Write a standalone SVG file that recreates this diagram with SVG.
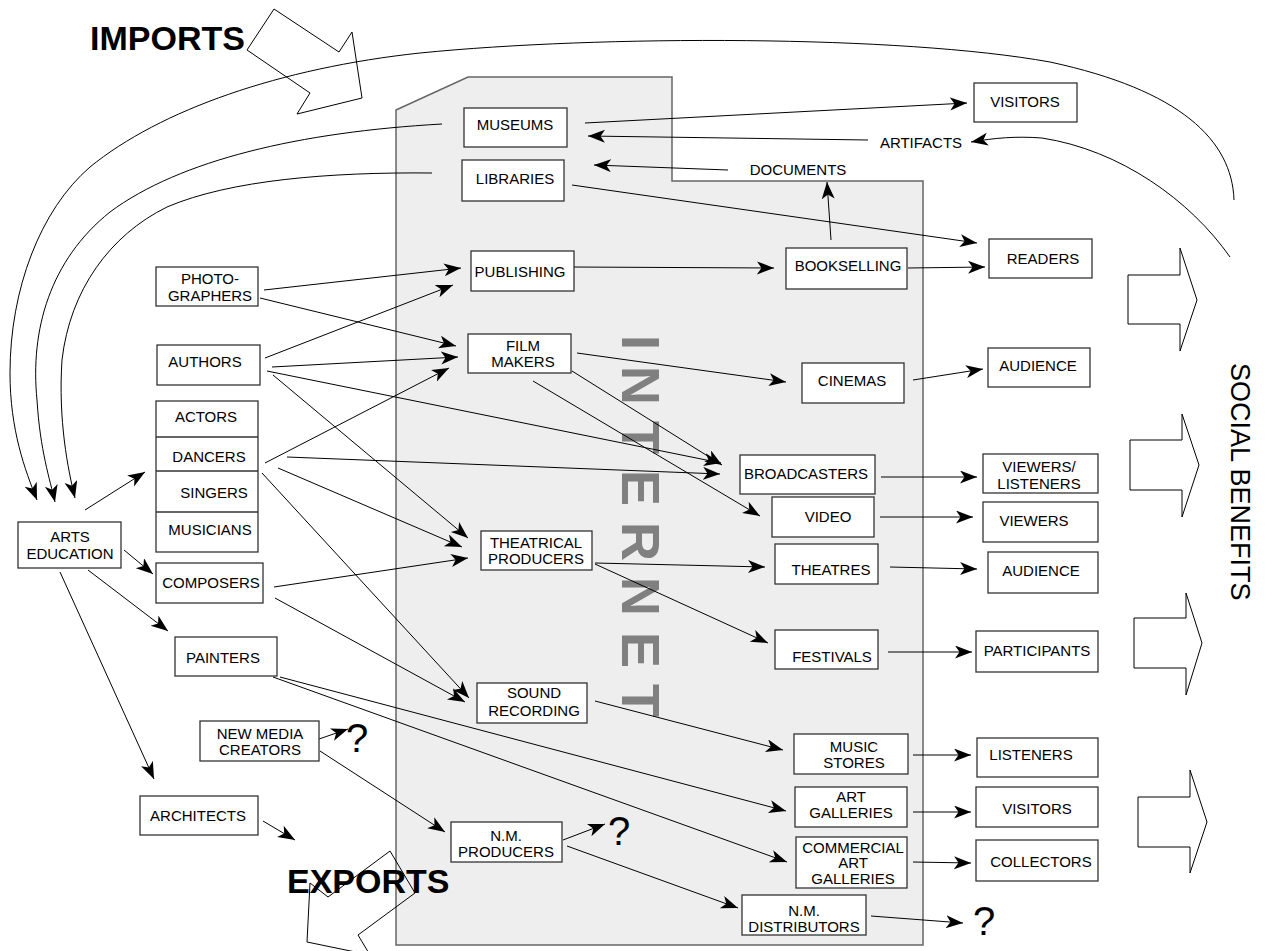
<svg xmlns="http://www.w3.org/2000/svg" width="1266" height="951" viewBox="0 0 1266 951">
<style>
text{font-family:"Liberation Sans",Arial,sans-serif;fill:#000}
.t{font-size:15px;text-anchor:middle}
.box{fill:#fff;stroke:#333;stroke-width:1.3}
.big{font-size:34px;font-weight:bold}
.q{font-size:40px}
.out{fill:none;stroke:#000;stroke-width:1}
#connectors line,#connectors path{fill:none;stroke:#000;stroke-width:1}
</style>
<defs>
<marker id="ah" markerUnits="userSpaceOnUse" markerWidth="19" markerHeight="15" refX="17" refY="6.5" orient="auto" viewBox="0 0 19 15">
<path d="M0,0 L17,6.5 L0,13 L4.5,6.5 z" fill="#000"/>
</marker>
</defs>
<rect width="1266" height="951" fill="#fff"/>
<g id="internet">
<polygon points="396,110 468,77 672,77 672,181 923,181 923,945 396,945" fill="#eeeeee" stroke="#666" stroke-width="1.5"/>
<text transform="rotate(90)" x="335" y="-622" font-size="54" font-weight="bold" letter-spacing="16" style="fill:#808080">INTERNET</text>
</g>
<g id="imports">
<polygon class="out" points="274,9 339,52 352,32 362,98 297,114 310,93 247,50"/>
<text class="big" x="90" y="50">IMPORTS</text>
</g>
<g id="exports">
<text class="big" x="287" y="893">EXPORTS</text>
<polygon class="out" points="390,851 415,893 358,935 370,955 307,942 310,883 328,897"/>
</g>
<g id="social-benefits">
<polygon class="out" points="1128,275 1180,275 1180,248 1197,300 1180,351 1180,324 1128,324"/>
<polygon class="out" points="1130,440 1182,440 1182,414 1199,465 1182,517 1182,490 1130,490"/>
<polygon class="out" points="1134,618 1186,618 1186,593 1202,643 1186,695 1186,668 1134,668"/>
<polygon class="out" points="1138,797 1190,797 1190,770 1207,822 1190,873 1190,847 1138,847"/>
<text transform="rotate(90)" x="363" y="-1231" font-size="27">SOCIAL BENEFITS</text>
</g>
<g id="connectors">
<path d="M1234,200 C1232,140 1180,90 1050,62 C900,35 600,35 420,53 C280,68 160,110 90,167 C40,210 10,290 10,373 C10,430 25,470 37,500" marker-end="url(#ah)"/>
<path d="M442,124 C300,132 180,160 110,212 C50,260 30,330 37,400 C40,450 50,480 55,502" marker-end="url(#ah)"/>
<path d="M432,173 C330,172 230,180 167,207 C110,235 70,290 62,360 C58,420 68,470 75,498" marker-end="url(#ah)"/>
<path d="M1230,257 C1190,200 1120,150 1042,138 C1015,136 995,138 971,142" marker-end="url(#ah)"/>
<line x1="585" y1="123" x2="967" y2="103" marker-end="url(#ah)"/>
<line x1="868" y1="140" x2="588" y2="136" marker-end="url(#ah)"/>
<line x1="728" y1="170" x2="594" y2="165" marker-end="url(#ah)"/>
<line x1="831" y1="240" x2="827" y2="182" marker-end="url(#ah)"/>
<line x1="572" y1="185" x2="977" y2="243" marker-end="url(#ah)"/>
<line x1="908" y1="268" x2="985" y2="267" marker-end="url(#ah)"/>
<line x1="572" y1="267" x2="774" y2="268" marker-end="url(#ah)"/>
<line x1="264" y1="290" x2="461" y2="268" marker-end="url(#ah)"/>
<line x1="260" y1="298" x2="456" y2="346" marker-end="url(#ah)"/>
<line x1="265" y1="358" x2="453" y2="285" marker-end="url(#ah)"/>
<line x1="272" y1="367" x2="458" y2="357" marker-end="url(#ah)"/>
<line x1="265" y1="463" x2="449" y2="368" marker-end="url(#ah)"/>
<line x1="267" y1="371" x2="721" y2="463" marker-end="url(#ah)"/>
<line x1="287" y1="457" x2="720" y2="474" marker-end="url(#ah)"/>
<line x1="273" y1="375" x2="468" y2="538" marker-end="url(#ah)"/>
<line x1="278" y1="468" x2="462" y2="547" marker-end="url(#ah)"/>
<line x1="274" y1="587" x2="468" y2="558" marker-end="url(#ah)"/>
<line x1="262" y1="473" x2="469" y2="698" marker-end="url(#ah)"/>
<line x1="275" y1="598" x2="465" y2="702" marker-end="url(#ah)"/>
<line x1="85" y1="510" x2="145" y2="472" marker-end="url(#ah)"/>
<line x1="124" y1="550" x2="153" y2="574" marker-end="url(#ah)"/>
<line x1="88" y1="570" x2="168" y2="631" marker-end="url(#ah)"/>
<line x1="60" y1="572" x2="154" y2="779" marker-end="url(#ah)"/>
<line x1="263" y1="821" x2="295" y2="840" marker-end="url(#ah)"/>
<line x1="319" y1="739" x2="348" y2="729" marker-end="url(#ah)"/>
<line x1="320" y1="751" x2="445" y2="832" marker-end="url(#ah)"/>
<line x1="280" y1="677" x2="786" y2="811" marker-end="url(#ah)"/>
<line x1="273" y1="677" x2="787" y2="862" marker-end="url(#ah)"/>
<line x1="595" y1="701" x2="783" y2="750" marker-end="url(#ah)"/>
<line x1="563" y1="840" x2="605" y2="824" marker-end="url(#ah)"/>
<line x1="567" y1="846" x2="738" y2="908" marker-end="url(#ah)"/>
<line x1="871" y1="916" x2="963" y2="923" marker-end="url(#ah)"/>
<line x1="577" y1="353" x2="786" y2="382" marker-end="url(#ah)"/>
<line x1="572" y1="371" x2="722" y2="465" marker-end="url(#ah)"/>
<line x1="533" y1="381" x2="760" y2="516" marker-end="url(#ah)"/>
<line x1="595" y1="563" x2="765" y2="567" marker-end="url(#ah)"/>
<line x1="595" y1="564" x2="768" y2="643" marker-end="url(#ah)"/>
<line x1="913" y1="380" x2="983" y2="369" marker-end="url(#ah)"/>
<line x1="881" y1="477" x2="977" y2="477" marker-end="url(#ah)"/>
<line x1="880" y1="517" x2="973" y2="517" marker-end="url(#ah)"/>
<line x1="890" y1="567" x2="977" y2="569" marker-end="url(#ah)"/>
<line x1="888" y1="652" x2="972" y2="652" marker-end="url(#ah)"/>
<line x1="913" y1="755" x2="971" y2="755" marker-end="url(#ah)"/>
<line x1="913" y1="812" x2="971" y2="812" marker-end="url(#ah)"/>
<line x1="913" y1="862" x2="971" y2="863" marker-end="url(#ah)"/>
</g>
<g id="labels">
<text class="t" x="921" y="148">ARTIFACTS</text>
<text class="t" x="798" y="175">DOCUMENTS</text>
<text class="q" x="346" y="752">?</text>
<text class="q" x="608" y="845">?</text>
<text class="q" x="973" y="935">?</text>
</g>
<g id="museums"><rect class="box" x="464" y="108" width="103" height="39"/><text class="t" x="515" y="130">MUSEUMS</text></g>
<g id="libraries"><rect class="box" x="462" y="160" width="102" height="41"/><text class="t" x="515" y="184">LIBRARIES</text></g>
<g id="visitors-1"><rect class="box" x="974" y="83" width="103" height="39"/><text class="t" x="1025" y="107">VISITORS</text></g>
<g id="readers"><rect class="box" x="989" y="239" width="103" height="39"/><text class="t" x="1043" y="264">READERS</text></g>
<g id="bookselling"><rect class="box" x="786" y="248" width="121" height="41"/><text class="t" x="848" y="271">BOOKSELLING</text></g>
<g id="publishing"><rect class="box" x="471" y="251" width="103" height="40"/><text class="t" x="520" y="277">PUBLISHING</text></g>
<g id="photographers"><rect class="box" x="156" y="267" width="102" height="39"/><text class="t" x="210" y="284">PHOTO-<tspan x="210" y="301">GRAPHERS</tspan></text></g>
<g id="authors"><rect class="box" x="157" y="345" width="103" height="40"/><text class="t" x="205" y="367">AUTHORS</text></g>
<g id="performers">
<rect class="box" x="156" y="401" width="102" height="151"/>
<line x1="156" y1="437" x2="258" y2="437" stroke="#333" stroke-width="1.3"/>
<line x1="156" y1="471" x2="258" y2="471" stroke="#333" stroke-width="1.3"/>
<line x1="156" y1="512" x2="258" y2="512" stroke="#333" stroke-width="1.3"/>
<text class="t" x="206" y="422">ACTORS</text>
<text class="t" x="209" y="462">DANCERS</text>
<text class="t" x="214" y="498">SINGERS</text>
<text class="t" x="210" y="535">MUSICIANS</text>
</g>
<g id="arts-education"><rect class="box" x="18" y="522" width="103" height="46"/><text class="t" x="70" y="542">ARTS<tspan x="70" y="559">EDUCATION</tspan></text></g>
<g id="composers"><rect class="box" x="156" y="563" width="107" height="40"/><text class="t" x="211" y="588">COMPOSERS</text></g>
<g id="painters"><rect class="box" x="175" y="637" width="102" height="39"/><text class="t" x="223" y="663">PAINTERS</text></g>
<g id="new-media-creators"><rect class="box" x="200" y="721" width="119" height="40"/><text class="t" x="260" y="739">NEW MEDIA<tspan x="260" y="755">CREATORS</tspan></text></g>
<g id="architects"><rect class="box" x="140" y="796" width="118" height="39"/><text class="t" x="198" y="821">ARCHITECTS</text></g>
<g id="film-makers"><rect class="box" x="468" y="334" width="103" height="39"/><text class="t" x="523" y="351">FILM<tspan x="523" y="367">MAKERS</tspan></text></g>
<g id="cinemas"><rect class="box" x="802" y="363" width="102" height="40"/><text class="t" x="852" y="386">CINEMAS</text></g>
<g id="broadcasters"><rect class="box" x="740" y="455" width="135" height="39"/><text class="t" x="806" y="479">BROADCASTERS</text></g>
<g id="video"><rect class="box" x="772" y="497" width="102" height="40"/><text class="t" x="828" y="522">VIDEO</text></g>
<g id="theatrical-producers"><rect class="box" x="481" y="531" width="111" height="39"/><text class="t" x="536" y="548">THEATRICAL<tspan x="536" y="564">PRODUCERS</tspan></text></g>
<g id="theatres"><rect class="box" x="775" y="544" width="103" height="40"/><text class="t" x="831" y="575">THEATRES</text></g>
<g id="festivals"><rect class="box" x="775" y="630" width="103" height="39"/><text class="t" x="832" y="662">FESTIVALS</text></g>
<g id="sound-recording"><rect class="box" x="477" y="683" width="110" height="40"/><text class="t" x="534" y="698">SOUND<tspan x="534" y="716">RECORDING</tspan></text></g>
<g id="music-stores"><rect class="box" x="794" y="734" width="114" height="40"/><text class="t" x="854" y="752">MUSIC<tspan x="854" y="768">STORES</tspan></text></g>
<g id="art-galleries"><rect class="box" x="795" y="787" width="112" height="40"/><text class="t" x="851" y="802">ART<tspan x="851" y="818">GALLERIES</tspan></text></g>
<g id="commercial-art-galleries"><rect class="box" x="796" y="837" width="111" height="51"/><text class="t" x="853" y="853">COMMERCIAL<tspan x="853" y="868">ART</tspan><tspan x="853" y="884">GALLERIES</tspan></text></g>
<g id="nm-producers"><rect class="box" x="451" y="822" width="111" height="40"/><text class="t" x="506" y="841">N.M.<tspan x="506" y="857">PRODUCERS</tspan></text></g>
<g id="nm-distributors"><rect class="box" x="742" y="895" width="124" height="40"/><text class="t" x="804" y="916">N.M.<tspan x="804" y="932">DISTRIBUTORS</tspan></text></g>
<g id="audience-1"><rect class="box" x="988" y="348" width="102" height="39"/><text class="t" x="1038" y="371">AUDIENCE</text></g>
<g id="viewers-listeners"><rect class="box" x="983" y="454" width="115" height="39"/><text class="t" x="1039" y="472">VIEWERS/<tspan x="1039" y="489">LISTENERS</tspan></text></g>
<g id="viewers"><rect class="box" x="983" y="502" width="115" height="40"/><text class="t" x="1034" y="526">VIEWERS</text></g>
<g id="audience-2"><rect class="box" x="988" y="552" width="110" height="41"/><text class="t" x="1041" y="576">AUDIENCE</text></g>
<g id="participants"><rect class="box" x="976" y="631" width="122" height="41"/><text class="t" x="1037" y="656">PARTICIPANTS</text></g>
<g id="listeners"><rect class="box" x="977" y="738" width="121" height="39"/><text class="t" x="1031" y="760">LISTENERS</text></g>
<g id="visitors-2"><rect class="box" x="976" y="787" width="122" height="40"/><text class="t" x="1037" y="814">VISITORS</text></g>
<g id="collectors"><rect class="box" x="976" y="840" width="122" height="41"/><text class="t" x="1041" y="867">COLLECTORS</text></g>
</svg>
